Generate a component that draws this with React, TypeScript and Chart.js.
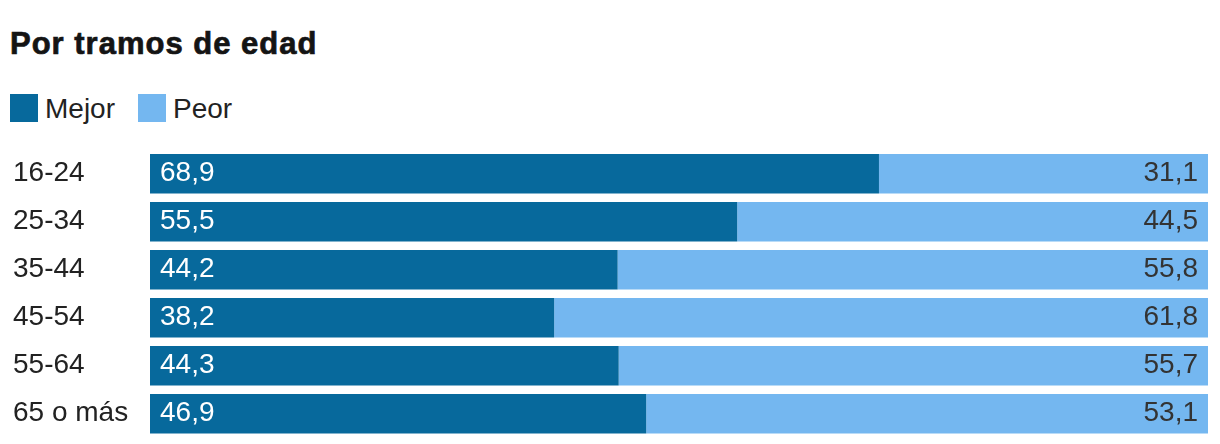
import React, { useEffect, useRef } from "react";
import { Chart, registerables } from "chart.js";

Chart.register(...registerables);

const categories = ["16-24", "25-34", "35-44", "45-54", "55-64", "65 o más"];
const mejor = [68.9, 55.5, 44.2, 38.2, 44.3, 46.9];
const peor = [31.1, 44.5, 55.8, 61.8, 55.7, 53.1];
const seriesNames = ["Mejor", "Peor"];
const titleText = "Por tramos de edad";

const DARK = "#07699c";
const LIGHT = "#74b7f0";
const FONT = "'Liberation Sans', Arial, sans-serif";

const fmt = (v: number) => v.toFixed(1).replace(".", ",");

const valueLabels = {
  id: "valueLabels",
  afterDatasetsDraw(chart: any) {
    const ctx = chart.ctx;
    ctx.save();
    ctx.font = `28px ${FONT}`;
    ctx.textBaseline = "alphabetic";
    const m0 = chart.getDatasetMeta(0);
    const m1 = chart.getDatasetMeta(1);
    m0.data.forEach((bar: any, i: number) => {
      const y = bar.y + 7;
      const left = Math.min(bar.base, bar.x);
      ctx.fillStyle = "#ffffff";
      ctx.textAlign = "left";
      ctx.fillText(fmt(chart.data.datasets[0].data[i]), left + 10, y);
      const b1 = m1.data[i];
      const right = Math.max(b1.base, b1.x);
      ctx.fillStyle = "#333333";
      ctx.textAlign = "right";
      ctx.fillText(fmt(chart.data.datasets[1].data[i]), right - 10, y);
    });
    ctx.restore();
  },
};

export default function App() {
  const ref = useRef<HTMLCanvasElement | null>(null);
  useEffect(() => {
    if (!ref.current) return;
    const chart = new Chart(ref.current, {
      type: "bar",
      data: {
        labels: categories,
        datasets: [
          { label: seriesNames[0], data: mejor, backgroundColor: DARK, borderWidth: 0 },
          { label: seriesNames[1], data: peor, backgroundColor: LIGHT, borderWidth: 0 },
        ],
      },
      options: {
        indexAxis: "y",
        animation: false,
        responsive: false,
        maintainAspectRatio: false,
        layout: { padding: { top: 149.75, bottom: 6.25, left: 13, right: 12 } },
        datasets: { bar: { barPercentage: 0.823, categoryPercentage: 1 } },
        plugins: {
          legend: { display: false },
          title: { display: false },
          tooltip: { enabled: false },
        },
        scales: {
          x: { stacked: true, min: 0, max: 100, display: false },
          y: {
            stacked: true,
            grid: { display: false },
            border: { display: false },
            ticks: {
              crossAlign: "far",
              color: "#222222",
              font: { family: FONT, size: 28 },
              padding: 0,
            },
            afterFit: (scale: any) => {
              scale.width = 137;
              scale.paddingTop = 0;
              scale.paddingBottom = 0;
            },
          },
        },
      },
      plugins: [valueLabels],
    } as any);
    return () => chart.destroy();
  }, []);

  const legendItem = (name: string, color: string, boxLeft: number, textLeft: number) => (
    <React.Fragment key={name}>
      <div style={{ position: "absolute", left: boxLeft, top: 94, width: 28, height: 28, background: color }} />
      <div
        style={{
          position: "absolute",
          left: textLeft,
          top: 95,
          fontFamily: FONT,
          fontSize: 28,
          lineHeight: "28px",
          color: "#222222",
          whiteSpace: "nowrap",
        }}
      >
        {name}
      </div>
    </React.Fragment>
  );

  return (
    <div style={{ position: "fixed", left: 0, top: 0, width: 1220, height: 444, background: "#ffffff", overflow: "hidden" }}>
      <div
        style={{
          position: "absolute",
          left: 10,
          top: 28,
          fontFamily: FONT,
          fontWeight: 900,
          fontSize: 31,
          lineHeight: "31px",
          letterSpacing: "1px",
          color: "#141414",
          WebkitTextStroke: "0.7px #141414",
          whiteSpace: "nowrap",
        }}
      >
        {titleText}
      </div>
      {legendItem(seriesNames[0], DARK, 10, 45)}
      {legendItem(seriesNames[1], LIGHT, 138, 173)}
      <canvas ref={ref} width={1220} height={444} style={{ position: "absolute", left: 0, top: 0, width: 1220, height: 444 }} />
    </div>
  );
}
